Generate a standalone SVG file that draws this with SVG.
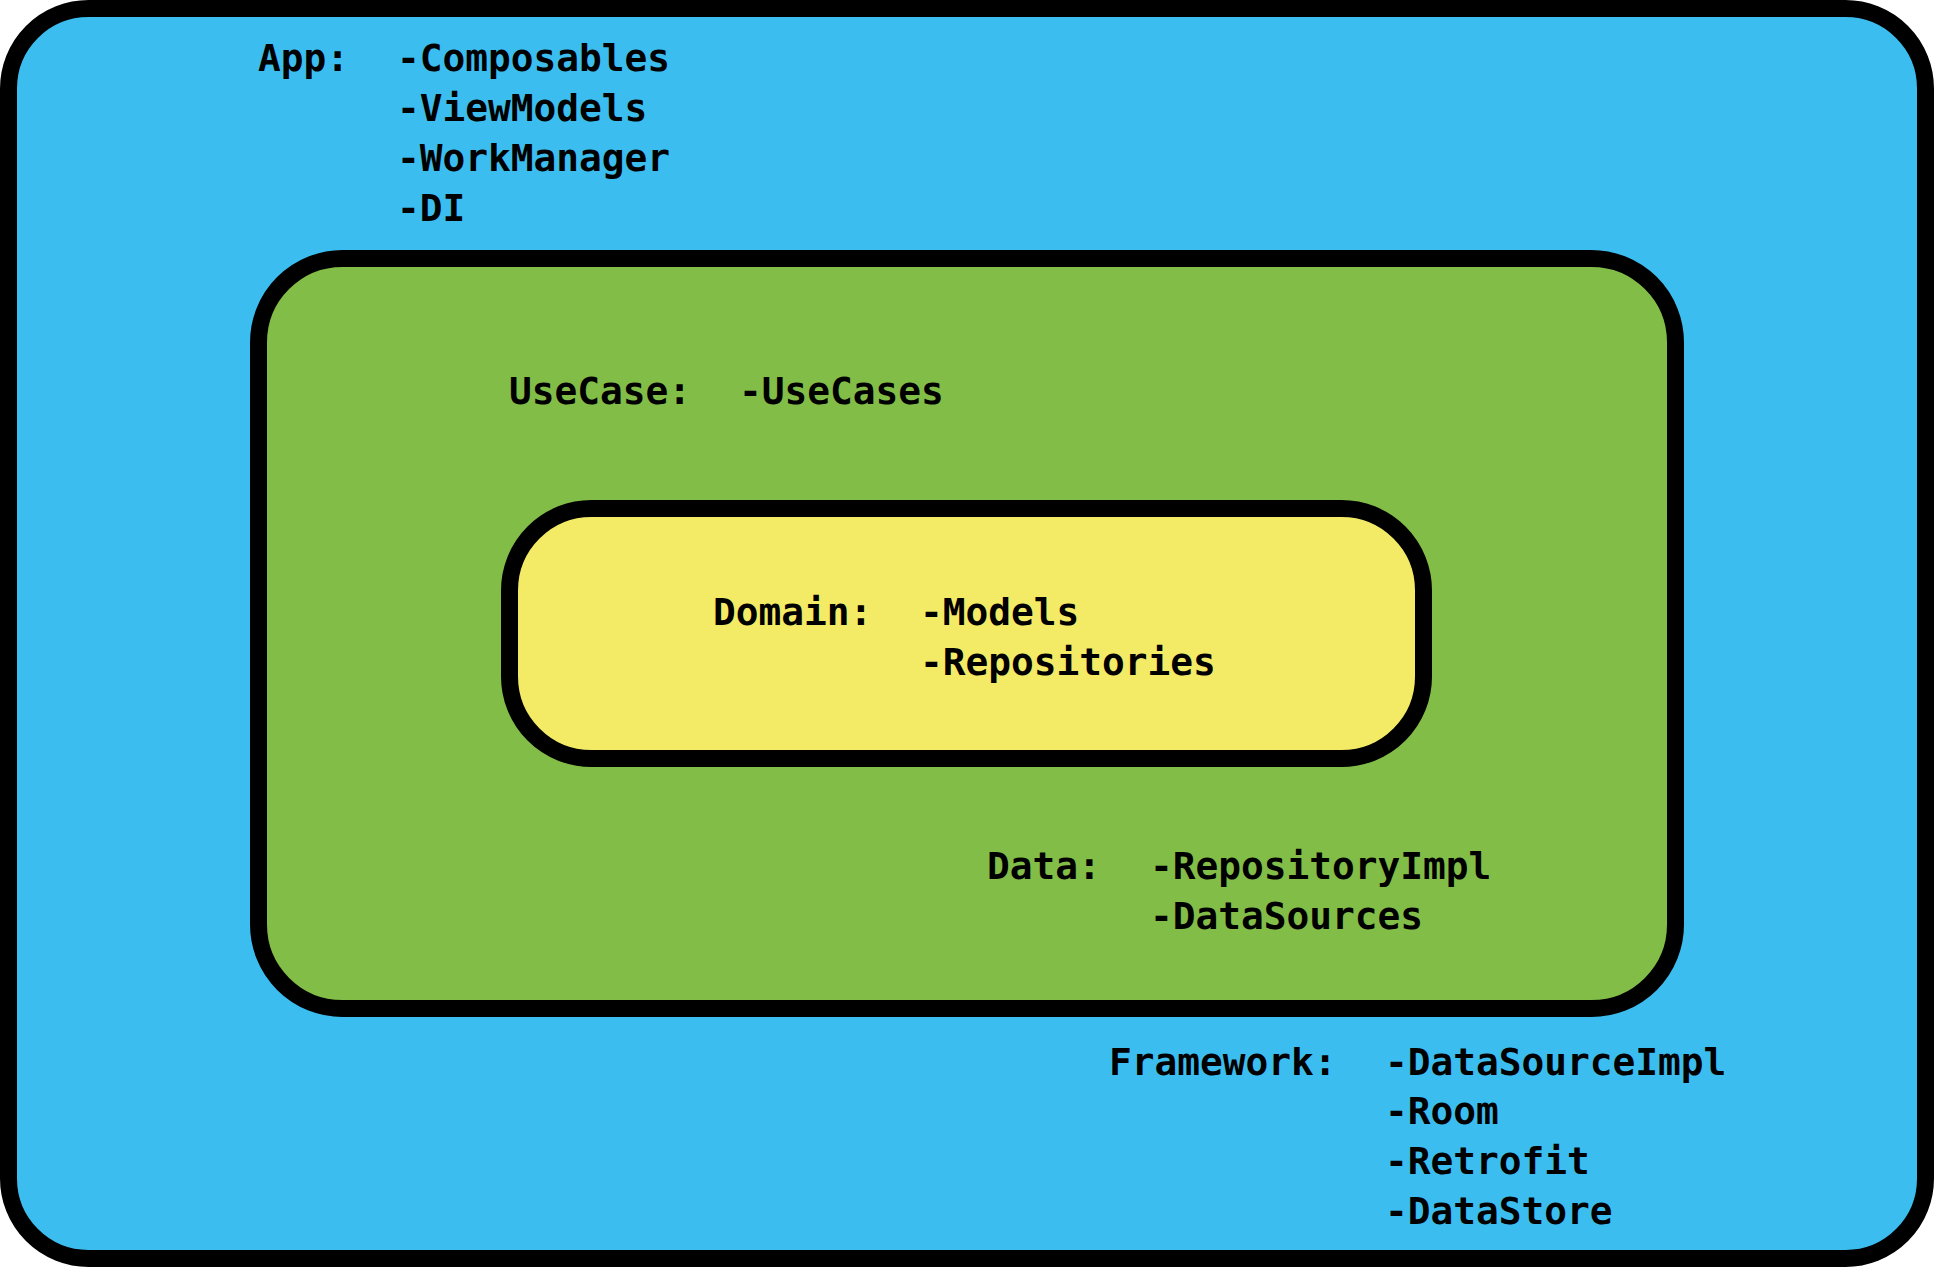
<svg xmlns="http://www.w3.org/2000/svg" width="1934" height="1267" viewBox="0 0 1934 1267">
  <style>
    .box { stroke: #000000; stroke-width: 17; }
    .app { fill: #3BBEEF; }
    .usecase { fill: #82BD48; }
    .domain { fill: #F3EA65; }
    .t { font-family: "DejaVu Sans Mono", "Liberation Mono", monospace; font-weight: bold; font-size: 37.8px; fill: #000000; }
  </style>
  <g id="app">
    <rect class="box app" x="8.5" y="8.5" width="1917" height="1250" rx="80" ry="80"/>
    <text class="t" x="258" y="71">App:</text>
    <text class="t" x="397" y="71">-Composables</text>
    <text class="t" x="397" y="121">-ViewModels</text>
    <text class="t" x="397" y="171">-WorkManager</text>
    <text class="t" x="397" y="221">-DI</text>
  </g>
  <g id="framework">
    <text class="t" x="1109" y="1075">Framework:</text>
    <text class="t" x="1385" y="1075">-DataSourceImpl</text>
    <text class="t" x="1385" y="1124">-Room</text>
    <text class="t" x="1385" y="1174">-Retrofit</text>
    <text class="t" x="1385" y="1224">-DataStore</text>
  </g>
  <g id="usecase">
    <rect class="box usecase" x="258.5" y="258.5" width="1417" height="750" rx="84" ry="84"/>
    <text class="t" x="509" y="404">UseCase:</text>
    <text class="t" x="739" y="404">-UseCases</text>
  </g>
  <g id="data">
    <text class="t" x="987" y="879">Data:</text>
    <text class="t" x="1150" y="879">-RepositoryImpl</text>
    <text class="t" x="1150" y="929">-DataSources</text>
  </g>
  <g id="domain">
    <rect class="box domain" x="509.5" y="508.5" width="914" height="250" rx="82" ry="82"/>
    <text class="t" x="713" y="625">Domain:</text>
    <text class="t" x="920" y="625">-Models</text>
    <text class="t" x="920" y="675">-Repositories</text>
  </g>
  <g id="connectors"/>
</svg>
